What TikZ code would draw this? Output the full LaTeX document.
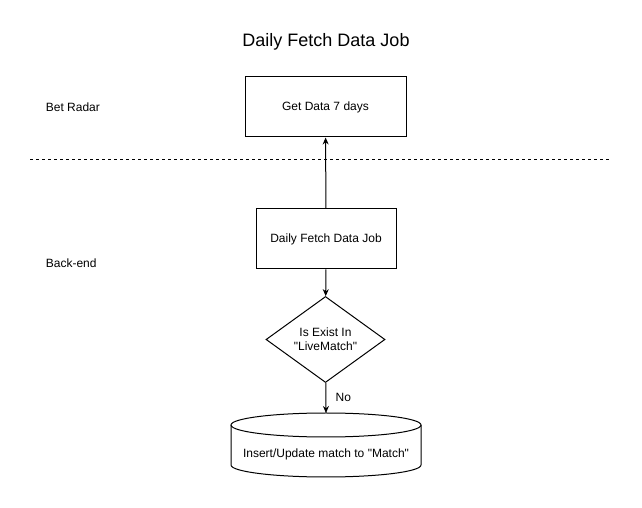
\documentclass[tikz,border=0pt]{standalone}
\usepackage{fontspec}
\setmainfont{Liberation Sans}
\usetikzlibrary{shapes.geometric,arrows.meta}

\begin{document}
\begin{tikzpicture}[x=1pt, y=1pt, line width=1pt,
        box/.style={draw, rectangle, font=\fontsize{12}{14}\selectfont},
        >={Stealth[length=7pt, width=6pt]}
    ]
    \useasboundingbox (0,0) rectangle (642,508);

    \begin{scope}[every node/.style={font=\fontsize{12}{14}\selectfont}]
        \node (title) at (326,466) {\fontsize{18}{21}\selectfont Daily Fetch Data Job};
        \node[anchor=west] (betradar) at (42,401) {Bet Radar};
        \node[anchor=west] (backend) at (42,245) {Back-end};

        \node[box, minimum width=161, minimum height=60] (getdata) at (325.5,401) {Get Data 7 days};
        \node[box, minimum width=140, minimum height=60] (fetchjob) at (326,269) {Daily Fetch Data Job};
        \node[draw, diamond, inner sep=0, minimum width=119, minimum height=79, align=center] (exist) at (325.5,168.5) {Is Exist In\\\textquotedbl LiveMatch\textquotedbl};
        \node (db) at (326,54) {Insert/Update match to \textquotedbl Match\textquotedbl};
    \end{scope}

    % cylinder round the db text
    \coordinate (dbnw) at (231,83);
    \coordinate (dbne) at (421,83);
    \coordinate (dbtop) at (326,95);
    \draw (dbnw) -- ++(0,-40) arc[start angle=180, end angle=360, x radius=95, y radius=12] -- (dbne);
    \draw (326,83) ellipse[x radius=95, y radius=12];

    \draw[dashed, dash pattern=on 3pt off 3pt] (30,348) -- (610,348);

    \draw[->] (fetchjob) edge (getdata);
    \draw[->] (fetchjob) edge (exist);
    \draw[->] (exist) edge node[anchor=west, xshift=6pt, font=\fontsize{12}{14}\selectfont] {No} (dbtop);

\end{tikzpicture}
\end{document}
